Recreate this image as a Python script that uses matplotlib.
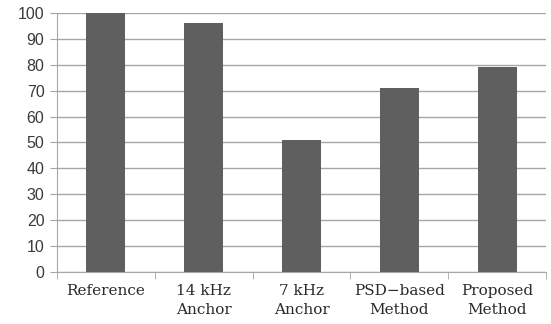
import matplotlib
matplotlib.use("Agg")
import matplotlib.pyplot as plt
import numpy as np

categories = ["Reference", "14 kHz\nAnchor", "7 kHz\nAnchor", "PSD\u2212based\nMethod", "Proposed\nMethod"]
scores = [100, 96, 51, 71, 79]
y_ticks = list(range(0, 101, 10))

fig = plt.figure(figsize=(5.51, 3.24), dpi=100)
ax = fig.add_axes([0.1034, 0.1605, 0.8876, 0.7995])

x = np.arange(len(categories))
ax.bar(x, scores, width=0.4, color="#5f5f5f", zorder=3)

ax.set_xlim(-0.5, len(categories) - 0.5)
ax.set_ylim(0, 100)
ax.set_yticks(y_ticks)
ax.set_yticklabels([str(t) for t in y_ticks], fontsize=11.5, color="#3a3a3a", family="Liberation Sans")
ax.yaxis.grid(True, color="#a6a6a6", linewidth=1, zorder=0)

# category labels centered, tick marks between categories
ax.set_xticks(x)
ax.set_xticklabels(categories, fontsize=11, family="DejaVu Serif", color="#2a2a2a", linespacing=1.45)
ax.tick_params(axis="x", length=0, pad=9)
ax.set_xticks(np.arange(-0.5, len(categories), 1), minor=True)
ax.tick_params(axis="x", which="minor", length=5, color="#a6a6a6")
ax.tick_params(axis="y", length=5, color="#a6a6a6", pad=4)

for side in ["top", "right"]:
    ax.spines[side].set_visible(False)
ax.spines["left"].set_color("#a6a6a6")
ax.spines["bottom"].set_color("#a6a6a6")

fig.savefig("out.png", dpi=100, facecolor="white")
